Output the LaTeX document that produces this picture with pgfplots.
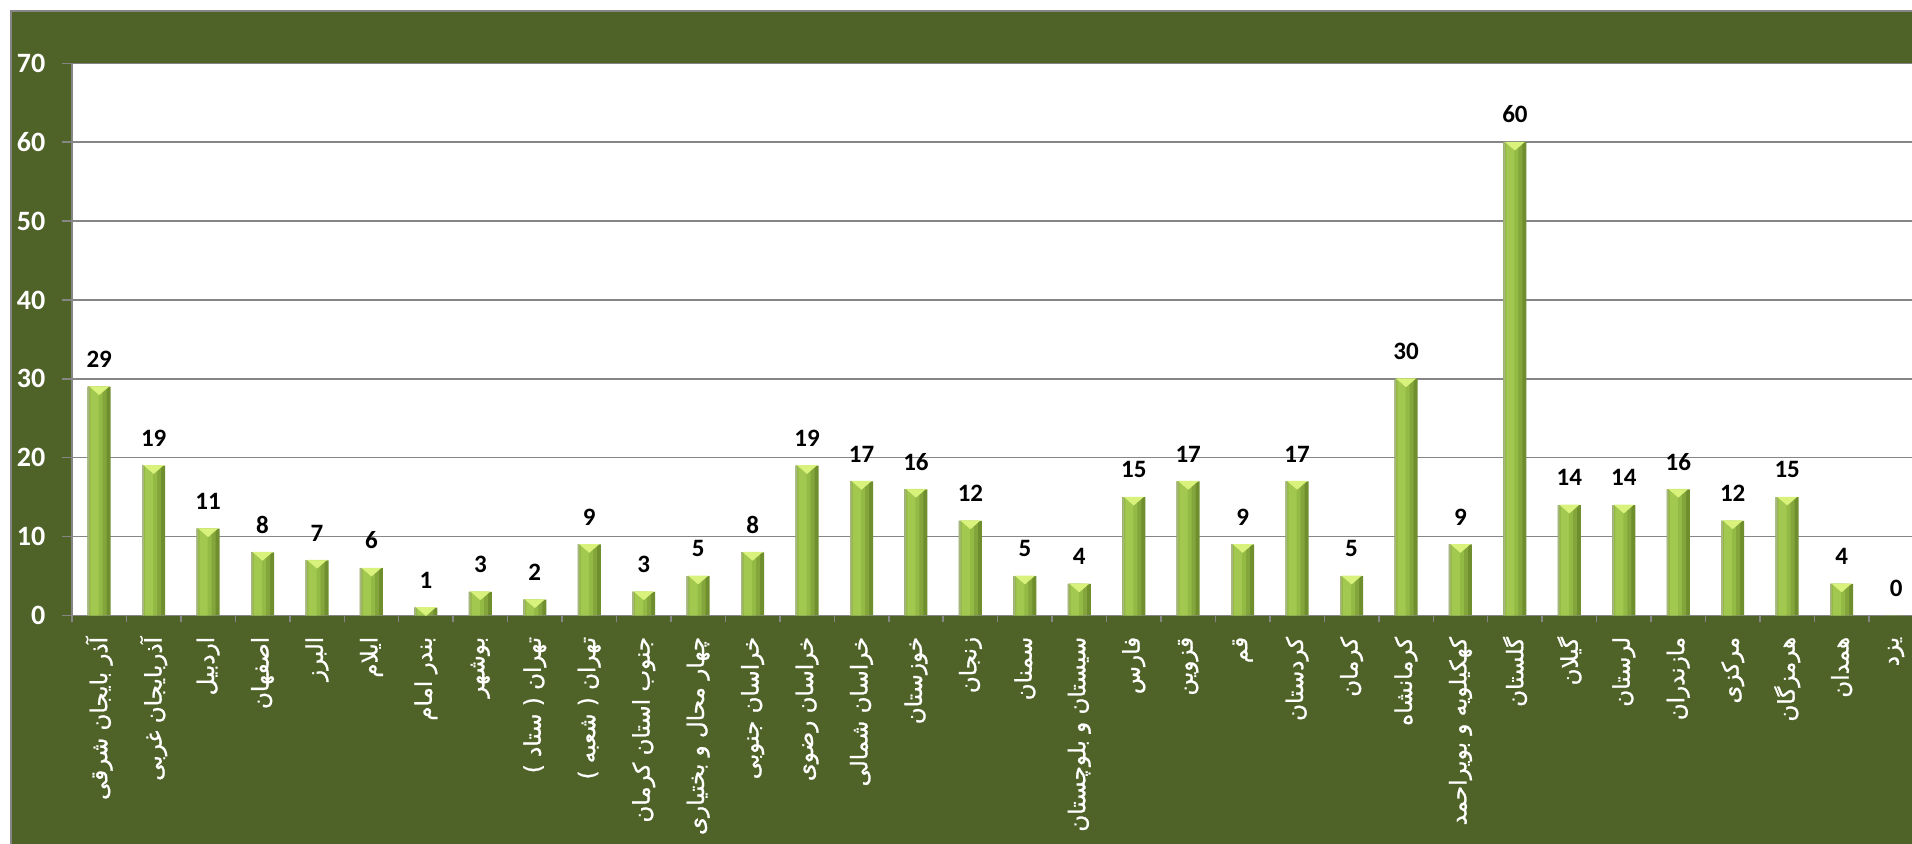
\documentclass[border=0pt]{standalone}
\usepackage{fontspec}
\usepackage{pgfplots}
\pgfplotsset{compat=1.18}
\setmainfont{Carlito}
\newfontfamily\arabicfont[Script=Arabic, FakeBold=1]{DejaVu Sans}
\TeXXeTstate=1
\definecolor{bg}{HTML}{4F6228}
\definecolor{gridgray}{HTML}{868686}
\definecolor{barE}{HTML}{A9B684}
\definecolor{barL}{HTML}{A2C84F}
\definecolor{barM}{HTML}{93BA45}
\definecolor{barD}{HTML}{84A53B}
\definecolor{barR}{HTML}{6F8F2F}
\definecolor{bevel}{HTML}{D8F27C}
\pgfplotstableread{
x y
0 29
1 19
2 11
3 8
4 7
5 6
6 1
7 3
8 2
9 9
10 3
11 5
12 8
13 19
14 17
15 16
16 12
17 5
18 4
19 15
20 17
21 9
22 17
23 5
24 30
25 9
26 60
27 14
28 14
29 16
30 12
31 15
32 4
33 0
}\datatable
\begin{document}
\begin{tikzpicture}
\useasboundingbox (0,0) rectangle (956pt,422pt);
\clip (0,0) rectangle (956pt,422pt);
\fill[white] (0,0) rectangle (956pt,422pt);
\filldraw[fill=bg, draw=gridgray, line width=1pt] (5.5pt,-20pt) rectangle (1000pt,416.5pt);
\begin{axis}[
  at={(36pt,114.25pt)}, anchor=south west,
  scale only axis, width=925.65pt, height=276.1pt,
  xmin=-0.5, xmax=33.5, ymin=0, ymax=70,
  axis background/.style={fill=white},
  axis line style={gridgray, line width=0.75pt},
  ymajorgrids, grid style={gridgray, line width=0.75pt},
  ytick={0,10,...,70},
  xtick={0,...,33},
  minor xtick={-0.5,0.5,...,33.5},
  tick pos=left, tick align=outside,
  major tick length=5pt, minor tick length=3.5pt,
  tick style={gridgray, line width=0.75pt},
  major x tick style={draw=none},
  /pgf/number format/assume math mode=true,
  yticklabel style={font=\fontsize{14}{16}\selectfont\bfseries, text=white, xshift=-4.8pt},
  xticklabel style={font=\arabicfont\fontsize{11.5}{13}\selectfont, text=white, rotate=90, anchor=east, inner sep=0pt},
  xticklabel shift=5.5pt,
  xticklabels={
    {\beginR آذر بایجان شرقی\endR},
    {\beginR آذربایجان غربی\endR},
    {\beginR اردبیل\endR},
    {\beginR اصفهان\endR},
    {\beginR البرز\endR},
    {\beginR ایلام\endR},
    {\beginR بندر امام\endR},
    {\beginR بوشهر\endR},
    {\beginR تهران ( ستاد )\endR},
    {\beginR تهران ( شعبه )\endR},
    {\beginR جنوب استان کرمان\endR},
    {\beginR چهار محال و بختیاری\endR},
    {\beginR خراسان جنوبی\endR},
    {\beginR خراسان رضوی\endR},
    {\beginR خراسان شمالی\endR},
    {\beginR خوزستان\endR},
    {\beginR زنجان\endR},
    {\beginR سمنان\endR},
    {\beginR سیستان و بلوچستان\endR},
    {\beginR فارس\endR},
    {\beginR قزوین\endR},
    {\beginR قم\endR},
    {\beginR کردستان\endR},
    {\beginR کرمان\endR},
    {\beginR کرمانشاه\endR},
    {\beginR کهکیلویه و بویراحمد\endR},
    {\beginR گلستان\endR},
    {\beginR گیلان\endR},
    {\beginR لرستان\endR},
    {\beginR مازندران\endR},
    {\beginR مرکزی\endR},
    {\beginR هرمزگان\endR},
    {\beginR همدان\endR},
    {\beginR یزد\endR}
  },
]
% layered bars give a left-to-right shading on each bar
\addplot[ybar, bar width=11.5pt, bar shift=0pt, draw=none, fill=barR,
  nodes near coords,
  nodes near coords style={font=\fontsize{12.5}{14}\selectfont\bfseries, text=black, anchor=south, yshift=6pt}]
  table[x=x, y=y] {\datatable};
\addplot[ybar, bar width=9.5pt, bar shift=-1pt, draw=none, fill=barD] table[x=x, y=y] {\datatable};
\addplot[ybar, bar width=7pt, bar shift=-1.75pt, draw=none, fill=barM] table[x=x, y=y] {\datatable};
\addplot[ybar, bar width=4pt, bar shift=-2.25pt, draw=none, fill=barL] table[x=x, y=y] {\datatable};
\addplot[ybar, bar width=0.8pt, bar shift=-5.35pt, draw=none, fill=barE] table[x=x, y=y] {\datatable};
\addplot[only marks, mark=triangle*, mark size=5.2pt, color=bevel,
  mark options={fill=bevel, draw=none, yshift=-1.3pt, yscale=-0.5},
  restrict y to domain=0.5:100]
  table[x=x, y=y] {\datatable};
\end{axis}
\end{tikzpicture}
\end{document}
